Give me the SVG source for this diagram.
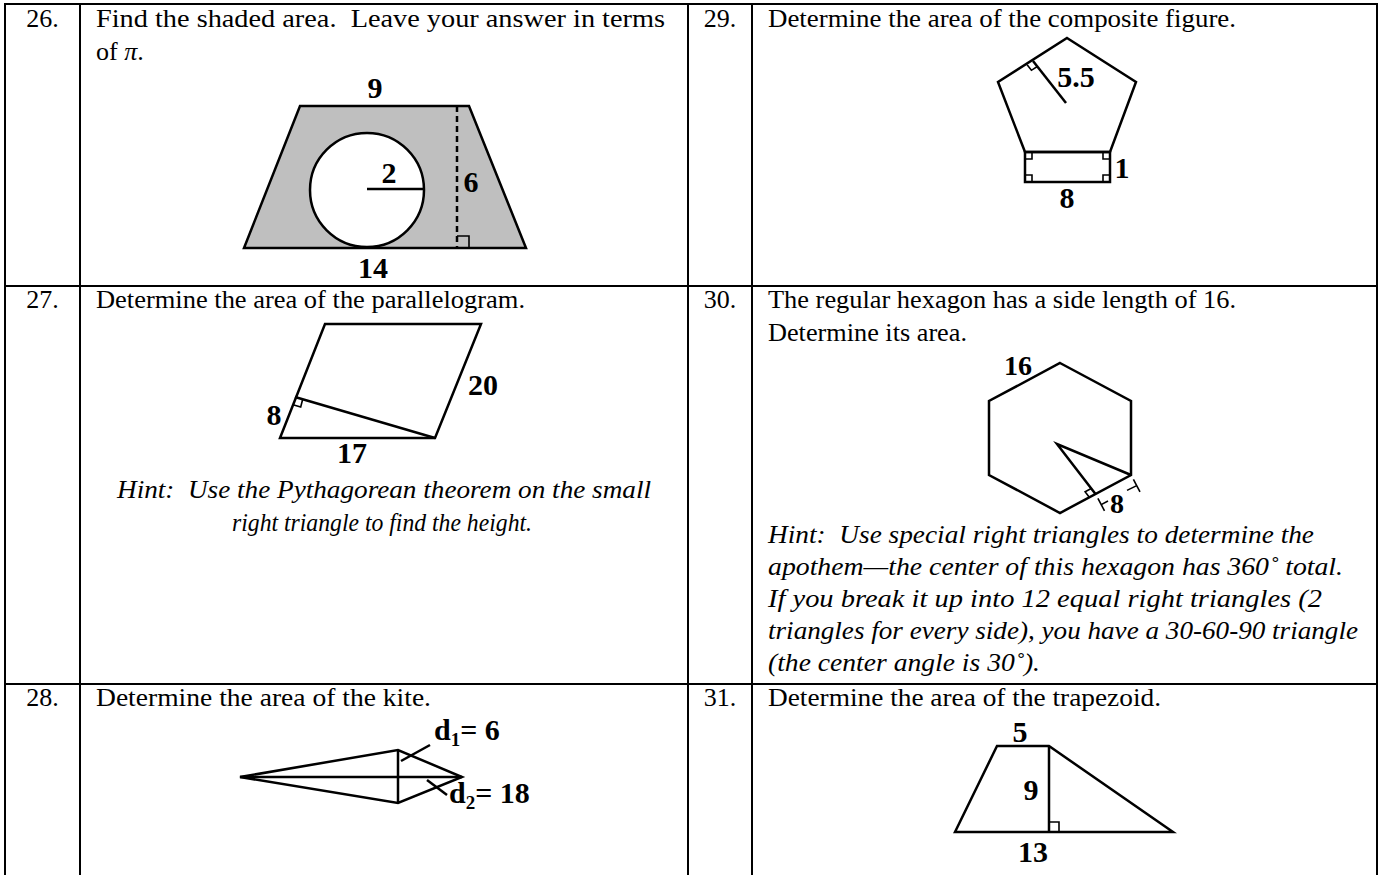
<svg xmlns="http://www.w3.org/2000/svg" width="1384" height="875" viewBox="0 0 1384 875">
<style>
.grid{stroke:#000;stroke-width:2;fill:none}
.fig{stroke:#000;stroke-width:2.5;fill:none;stroke-linejoin:miter}
.thin{stroke:#000;stroke-width:1.6;fill:none}
.t{font-family:"Liberation Serif","Times New Roman",serif;font-size:26px;fill:#000}
.i{font-family:"Liberation Serif","Times New Roman",serif;font-size:26px;font-style:italic;fill:#000}
.n{font-family:"Liberation Serif","Times New Roman",serif;font-size:26px;fill:#000;text-anchor:middle}
.lb{font-family:"Liberation Serif","Times New Roman",serif;font-size:30px;font-weight:bold;fill:#000;text-anchor:middle}
.lbs{font-family:"Liberation Serif","Times New Roman",serif;font-size:28px;font-weight:bold;fill:#000;text-anchor:middle}
.lbl{font-family:"Liberation Serif","Times New Roman",serif;font-size:30px;font-weight:bold;fill:#000}
</style>
<rect width="1384" height="875" fill="#fff"/>
<g id="table">
<line class="grid" x1="5" y1="4" x2="1377" y2="4"/>
<line class="grid" x1="5" y1="286" x2="1377" y2="286"/>
<line class="grid" x1="5" y1="684" x2="1377" y2="684"/>
<line class="grid" x1="5" y1="3" x2="5" y2="875"/>
<line class="grid" x1="80" y1="3" x2="80" y2="875"/>
<line class="grid" x1="688" y1="3" x2="688" y2="875"/>
<line class="grid" x1="752" y1="3" x2="752" y2="875"/>
<line class="grid" x1="1377" y1="3" x2="1377" y2="875"/>
</g>
<g id="p26">
<text class="n" x="42.5" y="27">26.</text>
<text class="t" x="96" y="27" textLength="569" lengthAdjust="spacingAndGlyphs">Find the shaded area. &#160;Leave your answer in terms</text>
<text class="t" x="96" y="60">of <tspan font-style="italic">π</tspan>.</text>
<polygon points="300,106 469,106 526,248 244,248" fill="#bfbfbf" stroke="#000" stroke-width="2.5"/>
<circle cx="367" cy="190" r="57" fill="#fff" stroke="#000" stroke-width="2.5"/>
<line class="fig" x1="367" y1="189" x2="423" y2="189"/>
<line class="fig" x1="457" y1="106" x2="457" y2="248" stroke-dasharray="6 4"/>
<polyline class="thin" points="457,236 469,236 469,248"/>
<text class="lb" x="375" y="98">9</text>
<text class="lb" x="389" y="183">2</text>
<text class="lb" x="471" y="192">6</text>
<text class="lb" x="373" y="278">14</text>
</g>
<g id="p29">
<text class="n" x="720" y="27">29.</text>
<text class="t" x="768" y="27" textLength="468" lengthAdjust="spacingAndGlyphs">Determine the area of the composite figure.</text>
<polygon class="fig" points="1067,38 1136,82 1110,152 1025,152 998,82"/>
<rect class="fig" x="1025" y="152" width="85" height="30"/>
<polyline class="thin" points="1025,159 1032,159 1032,152"/>
<polyline class="thin" points="1110,159 1103,159 1103,152"/>
<polyline class="thin" points="1025,175 1032,175 1032,182"/>
<polyline class="thin" points="1110,175 1103,175 1103,182"/>
<line class="fig" x1="1033" y1="61" x2="1066" y2="103"/>
<polyline class="thin" points="1027.1,64.8 1031.4,70.3 1037.3,66.5"/>
<text class="lb" x="1076" y="87">5.5</text>
<text class="lb" x="1122" y="178">1</text>
<text class="lb" x="1067" y="208">8</text>
</g>
<g id="p27">
<text class="n" x="42.5" y="308">27.</text>
<text class="t" x="96" y="308" textLength="429" lengthAdjust="spacingAndGlyphs">Determine the area of the parallelogram.</text>
<polygon class="fig" points="325,324 481,324 435,438 280,438"/>
<line class="fig" x1="435" y1="438" x2="295" y2="397"/>
<polyline class="thin" points="293,404.7 300.7,407 302.7,399.2"/>
<text class="lb" x="274" y="425">8</text>
<text class="lb" x="483" y="395">20</text>
<text class="lb" x="352" y="463">17</text>
<text class="i" x="117" y="498" textLength="534" lengthAdjust="spacingAndGlyphs">Hint: &#160;Use the Pythagorean theorem on the small</text>
<text class="i" x="232" y="531" textLength="300" lengthAdjust="spacingAndGlyphs">right triangle to find the height.</text>
</g>
<g id="p30">
<text class="n" x="720" y="308">30.</text>
<text class="t" x="768" y="308" textLength="468" lengthAdjust="spacingAndGlyphs">The regular hexagon has a side length of 16.</text>
<text class="t" x="768" y="341" textLength="199" lengthAdjust="spacingAndGlyphs">Determine its area.</text>
<polygon class="fig" points="1060,363 1131,401 1131,475 1060,513 989,475 989,401"/>
<polyline class="fig" points="1131,475 1057,444 1095.5,494"/>
<polyline class="thin" points="1091.2,488.5 1085.1,491.8 1089.3,497.3"/>
<line class="thin" x1="1101.2" y1="504.6" x2="1108" y2="501"/>
<line class="thin" x1="1127" y1="490.4" x2="1136.7" y2="485.6"/>
<line class="thin" x1="1097.9" y1="498.4" x2="1104.5" y2="510.8"/>
<line class="thin" x1="1133.4" y1="479.4" x2="1140" y2="491.8"/>
<text class="lbs" x="1018" y="375">16</text>
<text class="lbs" x="1117" y="513" font-size="26">8</text>
<text class="i" x="768" y="543" textLength="546" lengthAdjust="spacingAndGlyphs">Hint: &#160;Use special right triangles to determine the</text>
<text class="i" x="768" y="575" textLength="575" lengthAdjust="spacingAndGlyphs">apothem—the center of this hexagon has 360˚ total.</text>
<text class="i" x="768" y="607" textLength="554" lengthAdjust="spacingAndGlyphs">If you break it up into 12 equal right triangles (2</text>
<text class="i" x="768" y="639" textLength="590" lengthAdjust="spacingAndGlyphs">triangles for every side), you have a 30-60-90 triangle</text>
<text class="i" x="768" y="671" textLength="272" lengthAdjust="spacingAndGlyphs">(the center angle is 30˚).</text>
</g>
<g id="p28">
<text class="n" x="42.5" y="706">28.</text>
<text class="t" x="96" y="706" textLength="335" lengthAdjust="spacingAndGlyphs">Determine the area of the kite.</text>
<polygon class="fig" points="240,777 398,750 462,777 398,803"/>
<line class="fig" x1="240" y1="777" x2="462" y2="777"/>
<line class="fig" x1="398" y1="750" x2="398" y2="803"/>
<line class="fig" x1="430" y1="745" x2="401" y2="761"/>
<line class="fig" x1="427" y1="780" x2="447" y2="795"/>
<text class="lbl" x="434" y="740">d<tspan font-size="19" dy="6">1</tspan><tspan dy="-6">= 6</tspan></text>
<text class="lbl" x="449" y="803">d<tspan font-size="19" dy="6">2</tspan><tspan dy="-6">= 18</tspan></text>
</g>
<g id="p31">
<text class="n" x="720" y="706">31.</text>
<text class="t" x="768" y="706" textLength="393" lengthAdjust="spacingAndGlyphs">Determine the area of the trapezoid.</text>
<polygon class="fig" points="955,832 997,746 1049,746 1173,832"/>
<line class="fig" x1="1049" y1="746" x2="1049" y2="832"/>
<polyline class="thin" points="1049,822 1059,822 1059,832"/>
<text class="lb" x="1020" y="742">5</text>
<text class="lb" x="1031" y="800">9</text>
<text class="lb" x="1033" y="862">13</text>
</g>
</svg>
